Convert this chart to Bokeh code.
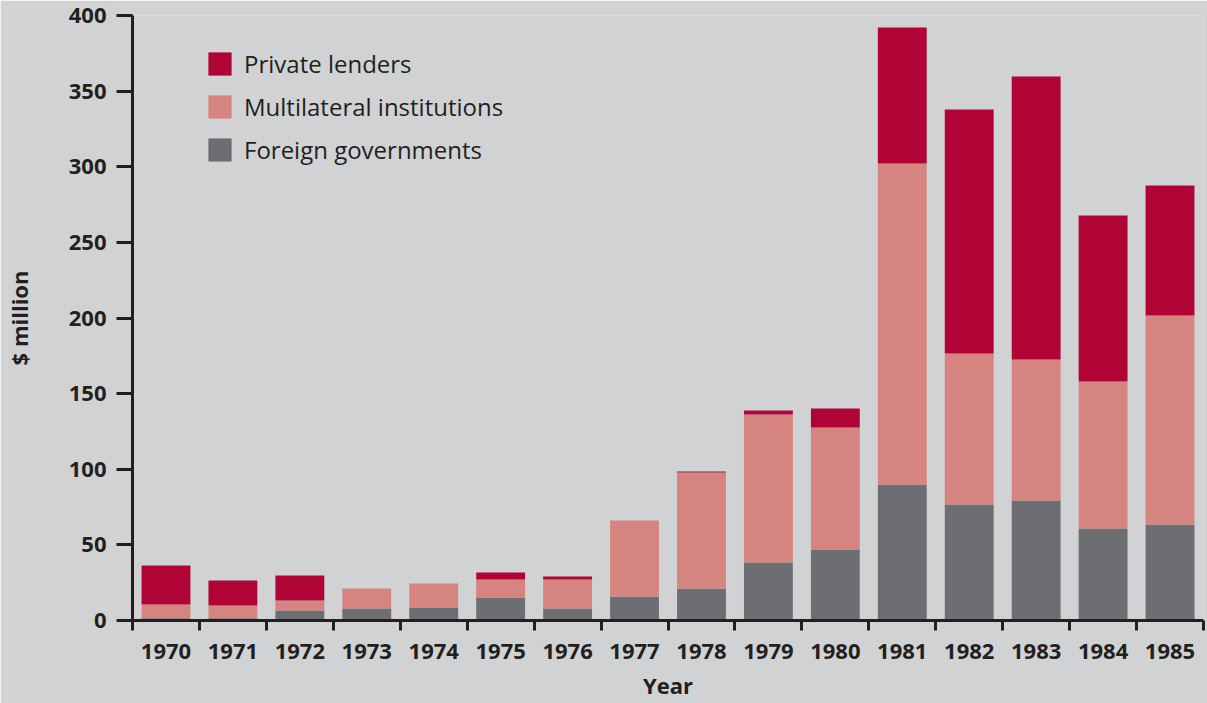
from bokeh.plotting import figure
from bokeh.models import ColumnDataSource, FixedTicker, Legend, LegendItem, Range1d
from bokeh.embed import file_html
from bokeh.resources import INLINE

years = ["1970", "1971", "1972", "1973", "1974", "1975", "1976", "1977",
         "1978", "1979", "1980", "1981", "1982", "1983", "1984", "1985"]
foreign_governments = [1.5, 1.5, 6.6, 7.9, 8.6, 15.2, 7.9, 15.9,
                       21.2, 38.3, 46.9, 89.9, 76.7, 79.3, 60.8, 63.5]
multilateral_institutions = [9.1, 8.4, 6.6, 13.3, 15.9, 11.9, 19.2, 50.2,
                             76.7, 97.9, 80.7, 212.2, 99.8, 93.3, 97.2, 138.2]
private_lenders = [25.8, 16.5, 16.6, 0.0, 0.0, 4.6, 2.0, 0.0,
                   0.6, 2.6, 12.6, 89.9, 161.4, 187.1, 109.8, 85.9]
y_ticks = [0, 50, 100, 150, 200, 250, 300, 350, 400]

BG = "#d1d2d4"
TXT = "#231f20"
C_PRIV = "#b00336"
C_MULTI = "#d5847f"
C_GOV = "#6d6e72"
FONT = "Open Sans"

n = len(years)
xc = [i + 0.5 for i in range(n)]
src = ColumnDataSource(dict(x=xc, gov=foreign_governments,
                            multi=multilateral_institutions, priv=private_lenders))

p = figure(width=1207, height=703, x_range=Range1d(0, n), y_range=Range1d(0, 400),
           output_backend="svg", toolbar_location=None,
           min_border_left=130, min_border_right=4, min_border_top=15, min_border_bottom=83,
           background_fill_color=BG, border_fill_color=BG)
p.outline_line_color = None
p.xgrid.grid_line_color = None
p.ygrid.grid_line_color = None

rs = p.vbar_stack(["gov", "multi", "priv"], x="x", width=0.73, source=src,
                  color=[C_GOV, C_MULTI, C_PRIV], line_color=None)

# Y axis
ya = p.yaxis[0]
ya.ticker = FixedTicker(ticks=y_ticks)
ya.major_tick_out = 16
ya.major_tick_in = 0
ya.minor_tick_out = 0
ya.minor_tick_in = 0
ya.axis_line_width = 3
ya.axis_line_color = TXT
ya.major_tick_line_width = 3
ya.major_tick_line_color = TXT
ya.major_label_text_font = FONT
ya.major_label_text_font_style = "bold"
ya.major_label_text_font_size = "22px"
ya.major_label_text_color = TXT
ya.major_label_standoff = 10
ya.axis_label = "$ million"
ya.axis_label_text_font = FONT
ya.axis_label_text_font_style = "bold"
ya.axis_label_text_font_size = "22px"
ya.axis_label_text_color = TXT
ya.axis_label_standoff = 32

# X axis
xa = p.xaxis[0]
xa.ticker = FixedTicker(ticks=xc, minor_ticks=list(range(n + 1)))
xa.major_label_overrides = {xv: yr for xv, yr in zip(xc, years)}
xa.major_tick_out = 0
xa.major_tick_in = 0
xa.minor_tick_out = 10
xa.minor_tick_in = 0
xa.minor_tick_line_width = 3
xa.minor_tick_line_color = TXT
xa.axis_line_width = 3
xa.axis_line_color = TXT
xa.major_label_text_font = FONT
xa.major_label_text_font_style = "bold"
xa.major_label_text_font_size = "22px"
xa.major_label_text_color = TXT
xa.major_label_standoff = 13
xa.axis_label = "Year"
xa.axis_label_text_font = FONT
xa.axis_label_text_font_style = "bold"
xa.axis_label_text_font_size = "22px"
xa.axis_label_text_color = TXT
xa.axis_label_standoff = 8

legend = Legend(items=[LegendItem(label="Private lenders", renderers=[rs[2]]),
                       LegendItem(label="Multilateral institutions", renderers=[rs[1]]),
                       LegendItem(label="Foreign governments", renderers=[rs[0]])],
                location=(73, 454), orientation="vertical",
                background_fill_alpha=0, border_line_alpha=0,
                glyph_width=29, glyph_height=29, label_height=23,
                label_text_font=FONT, label_text_font_size="24px", label_text_color=TXT,
                label_standoff=10, spacing=10, padding=0, margin=0)
p.add_layout(legend, "center")

open("out.html", "w").write(file_html(p, INLINE))
